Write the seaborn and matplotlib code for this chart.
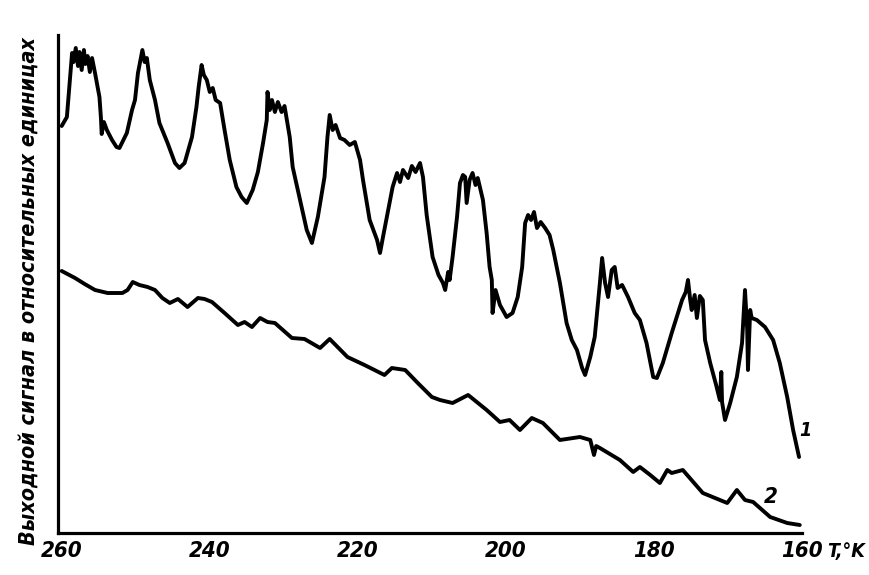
import matplotlib
matplotlib.use("Agg")
import matplotlib.pyplot as plt
import seaborn as sns
import pandas as pd

# ---- data ----
T1 = [260.0, 259.3, 258.9, 258.6, 258.4, 258.1, 257.8, 257.6, 257.3, 257.0, 256.8, 256.5, 256.2, 255.9, 255.5,
      254.9, 254.7, 254.6, 254.3, 253.9, 253.2, 252.6, 252.2, 251.2, 250.5, 250.1, 249.7, 249.3, 249.1, 248.8,
      248.5, 248.1, 247.4, 246.8, 245.7, 244.7, 244.1, 243.4, 242.4, 241.8, 241.5, 241.1, 240.8, 240.4, 240.0,
      239.6, 239.2, 238.6, 238.0, 237.3, 236.4, 235.7, 235.0, 234.2, 233.5, 232.8, 232.3, 232.2, 231.9, 231.6,
      231.2, 230.8, 230.3, 229.9, 229.2, 228.8, 227.8, 226.9, 226.2, 225.4, 224.5, 224.1, 223.8, 223.4, 223.0,
      222.4, 221.8, 221.1, 220.4, 219.7, 219.3, 218.4, 217.4, 217.0, 216.6, 215.9, 215.3, 214.7, 214.3, 213.9,
      213.2, 212.7, 212.2, 211.6, 211.2, 210.7, 209.9, 209.1, 208.5, 208.2, 207.8, 207.6, 207.2, 206.6, 206.2,
      205.8, 205.5, 205.3, 204.9, 204.5, 204.1, 203.8, 203.1, 202.6, 202.2, 201.9, 201.8, 201.4, 200.8, 199.9,
      199.1, 198.4, 197.8, 197.4, 197.0, 196.6, 196.2, 195.8, 195.3, 194.7, 194.1, 193.6, 192.7, 191.8, 191.1,
      190.4, 189.7, 189.3, 188.6, 188.0, 187.3, 187.0, 186.6, 186.2, 185.7, 185.3, 184.9, 184.3, 183.5, 182.6,
      181.9, 181.0, 180.1, 179.6, 178.8, 177.6, 176.2, 175.7, 175.4, 175.1, 174.9, 174.5, 174.2, 173.8, 173.4,
      173.1, 172.4, 171.6, 171.1, 170.9, 170.8, 170.4, 169.7, 168.8, 168.1, 167.7, 167.4, 167.3, 167.0, 166.8,
      166.1, 165.0, 163.9, 163.0, 162.0, 161.2, 160.4]
S1 = [81.4, 83.2, 90.6, 96.0, 94.2, 97.0, 93.4, 96.2, 92.6, 96.6, 93.8, 95.4, 92.2, 95.0, 92.0,
      87.2, 83.0, 79.8, 82.2, 80.6, 78.6, 77.2, 77.0, 80.0, 84.6, 86.6, 92.0, 95.0, 96.6, 94.2,
      95.0, 90.6, 86.6, 82.0, 78.0, 74.0, 73.0, 74.0, 79.2, 85.2, 89.2, 93.6, 91.6, 90.6, 88.2,
      89.0, 86.6, 86.0, 80.6, 74.6, 69.2, 67.2, 66.0, 68.6, 72.2, 78.0, 82.6, 88.2, 84.6, 86.6,
      84.2, 86.2, 84.2, 85.4, 79.2, 73.2, 66.6, 60.6, 58.0, 63.2, 71.2, 79.2, 83.6, 80.6, 81.6,
      79.0, 78.6, 77.6, 78.2, 74.6, 70.6, 62.6, 58.6, 56.0, 59.2, 64.6, 69.2, 72.0, 70.2, 72.6,
      71.0, 73.4, 72.2, 74.0, 71.2, 63.6, 55.2, 51.6, 50.0, 48.6, 52.2, 50.6, 55.2, 63.2, 70.0,
      71.6, 71.2, 66.0, 70.6, 72.0, 69.6, 71.0, 66.6, 60.0, 53.2, 50.6, 44.0, 48.6, 45.6, 43.2,
      44.0, 47.2, 53.2, 62.0, 63.6, 62.6, 64.2, 61.0, 62.2, 61.0, 59.6, 56.6, 50.0, 42.0, 38.6,
      36.6, 33.0, 31.6, 35.2, 39.2, 50.0, 55.0, 50.0, 47.2, 52.6, 53.2, 49.0, 49.6, 47.2, 44.0,
      42.6, 38.0, 31.2, 31.0, 34.0, 40.0, 46.6, 48.2, 50.6, 46.6, 44.6, 47.6, 43.0, 47.4, 46.6,
      38.6, 34.0, 29.6, 26.6, 32.2, 26.2, 22.6, 26.0, 31.2, 38.0, 48.6, 40.6, 32.6, 44.6, 43.0,
      42.6, 41.2, 38.6, 34.0, 27.2, 20.6, 15.2]

T2 = [260.0, 258.2, 256.9, 255.5, 253.8, 251.8, 251.1, 250.4, 249.5, 248.4, 247.4, 246.4, 245.4, 244.3, 243.0,
      241.6, 240.7, 239.7, 238.0, 236.2, 235.3, 234.3, 233.2, 232.2, 231.2, 228.9, 227.2, 225.1, 223.8, 221.4,
      219.1, 216.4, 215.4, 213.6, 211.9, 210.0, 208.9, 207.2, 205.1, 202.6, 200.8, 199.5, 198.1, 196.5, 195.0,
      192.7, 190.0, 188.6, 188.1, 187.8, 187.3, 184.6, 182.8, 181.9, 180.5, 179.2, 178.2, 177.6, 176.1, 173.4,
      170.1, 168.8, 167.7, 166.6, 164.3, 162.0, 160.3]
S2 = [52.4, 51.0, 49.8, 48.6, 48.0, 48.0, 48.6, 50.2, 49.6, 49.2, 48.6, 47.0, 46.0, 46.8, 45.2,
      47.0, 46.8, 46.2, 44.0, 41.6, 42.2, 41.2, 43.0, 42.2, 42.0, 39.0, 38.8, 37.0, 38.8, 35.2,
      33.6, 31.6, 33.0, 32.6, 30.0, 27.2, 26.6, 26.0, 27.6, 24.6, 22.2, 22.6, 20.6, 23.0, 22.0,
      18.6, 19.2, 18.6, 15.6, 17.4, 17.0, 14.6, 12.2, 13.2, 11.6, 10.0, 12.6, 12.0, 12.6, 8.0,
      6.0, 8.6, 6.6, 6.2, 3.2, 2.0, 1.6]

x_ticks = [260, 240, 220, 200, 180, 160]
x_ticklabels = ["260", "240", "220", "200", "180", "160"]
y_label = "Выходной сигнал в относительных единицах"
x_unit = "T,°K"
curve_names = ["1", "2"]

# ---- styling ----
sns.set_style("white")
plt.rcParams['font.family'] = ['DejaVu Sans']
plt.rcParams['font.stretch'] = 'condensed'
plt.rcParams['text.color'] = 'black'
plt.rcParams['xtick.color'] = 'black'

df = pd.concat([
    pd.DataFrame({"T": T1, "S": S1, "curve": curve_names[0]}),
    pd.DataFrame({"T": T2, "S": S2, "curve": curve_names[1]}),
], ignore_index=True)

fig = plt.figure(figsize=(8.69, 5.75), dpi=100)
ax = fig.add_axes([58 / 869, 42 / 575, 744 / 869, 498 / 575])

sns.lineplot(data=df, x="T", y="S", hue="curve", palette=["black", "black"],
             estimator=None, sort=False, lw=2.8, legend=False, ax=ax)

ax.set_xlim(260.5, 160)
ax.set_ylim(0, 99.6)
for s in ["top", "right"]:
    ax.spines[s].set_visible(False)
for s in ["left", "bottom"]:
    ax.spines[s].set_linewidth(2.3)
    ax.spines[s].set_color("black")

ax.set_xticks(x_ticks)
ax.set_xticklabels(x_ticklabels, fontsize=16, fontweight="bold", fontstyle="italic",
                   fontstretch="condensed", color="black")
ax.tick_params(axis="x", direction="in", length=7, width=2, pad=6, colors="black")
ax.set_yticks([])
ax.set_xlabel("")
ax.set_ylabel("")

fig.text(29 / 869, 1 - 291 / 575, y_label, rotation=90, ha="center", va="center",
         fontsize=15.5, fontweight="bold", fontstyle="italic", fontstretch="condensed",
         color="black")
fig.text(846 / 869, 1 - 551 / 575, x_unit, ha="center", va="center",
         fontsize=14, fontweight="bold", fontstyle="italic", fontstretch="condensed",
         color="black")

ax.text(159.5, 20.6, curve_names[0], ha="center", va="center",
        fontsize=14, fontweight="bold", fontstyle="italic", fontstretch="condensed",
        color="black")
ax.text(164.2, 7.2, curve_names[1], ha="center", va="center",
        fontsize=16, fontweight="bold", fontstyle="italic", fontstretch="condensed",
        color="black")

fig.savefig("out.png", dpi=100, facecolor="white")
